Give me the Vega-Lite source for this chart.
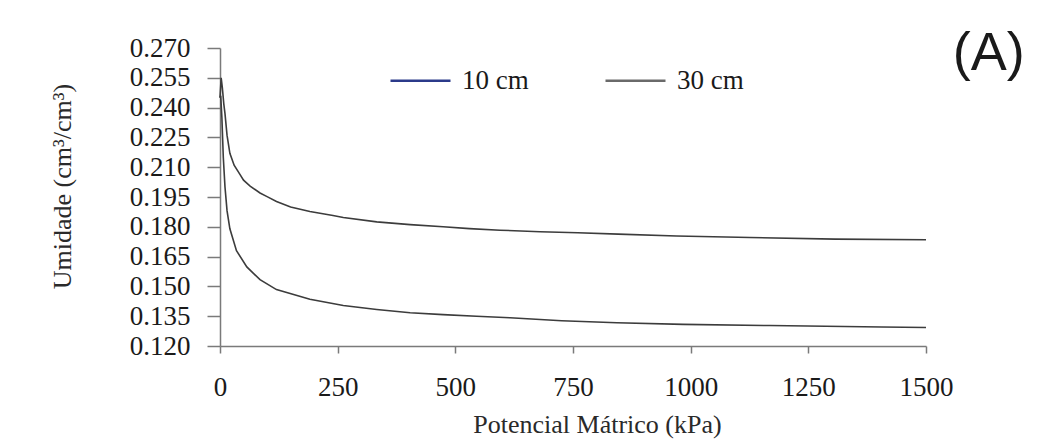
{
  "$schema": "https://vega.github.io/schema/vega-lite/v6.json",
  "width": 706,
  "height": 298,
  "autosize": {"type": "none"},
  "padding": {"left": 220, "top": 48, "right": 115, "bottom": 101},
  "background": "white",
  "datasets": {
    "curves": [
      {"kPa": 0, "theta": 0.245, "series": "10 cm"},
      {"kPa": 2.5, "theta": 0.255, "series": "10 cm"},
      {"kPa": 5, "theta": 0.25, "series": "10 cm"},
      {"kPa": 8, "theta": 0.242, "series": "10 cm"},
      {"kPa": 10.6, "theta": 0.237, "series": "10 cm"},
      {"kPa": 15, "theta": 0.226, "series": "10 cm"},
      {"kPa": 21, "theta": 0.217, "series": "10 cm"},
      {"kPa": 30, "theta": 0.211, "series": "10 cm"},
      {"kPa": 42, "theta": 0.2065, "series": "10 cm"},
      {"kPa": 50, "theta": 0.2035, "series": "10 cm"},
      {"kPa": 64, "theta": 0.2005, "series": "10 cm"},
      {"kPa": 85, "theta": 0.197, "series": "10 cm"},
      {"kPa": 100, "theta": 0.1952, "series": "10 cm"},
      {"kPa": 120, "theta": 0.1927, "series": "10 cm"},
      {"kPa": 150, "theta": 0.19, "series": "10 cm"},
      {"kPa": 191, "theta": 0.1877, "series": "10 cm"},
      {"kPa": 240, "theta": 0.1857, "series": "10 cm"},
      {"kPa": 262, "theta": 0.1847, "series": "10 cm"},
      {"kPa": 333, "theta": 0.1825, "series": "10 cm"},
      {"kPa": 404, "theta": 0.1811, "series": "10 cm"},
      {"kPa": 474, "theta": 0.18, "series": "10 cm"},
      {"kPa": 530, "theta": 0.1791, "series": "10 cm"},
      {"kPa": 595, "theta": 0.1783, "series": "10 cm"},
      {"kPa": 680, "theta": 0.1775, "series": "10 cm"},
      {"kPa": 760, "theta": 0.177, "series": "10 cm"},
      {"kPa": 846, "theta": 0.1763, "series": "10 cm"},
      {"kPa": 970, "theta": 0.1754, "series": "10 cm"},
      {"kPa": 1126, "theta": 0.1746, "series": "10 cm"},
      {"kPa": 1307, "theta": 0.1738, "series": "10 cm"},
      {"kPa": 1500, "theta": 0.1735, "series": "10 cm"},
      {"kPa": 0, "theta": 0.245, "series": "30 cm"},
      {"kPa": 1.5, "theta": 0.246, "series": "30 cm"},
      {"kPa": 4, "theta": 0.235, "series": "30 cm"},
      {"kPa": 7, "theta": 0.215, "series": "30 cm"},
      {"kPa": 10.6, "theta": 0.2, "series": "30 cm"},
      {"kPa": 15, "theta": 0.188, "series": "30 cm"},
      {"kPa": 21, "theta": 0.179, "series": "30 cm"},
      {"kPa": 35, "theta": 0.168, "series": "30 cm"},
      {"kPa": 57, "theta": 0.1598, "series": "30 cm"},
      {"kPa": 85, "theta": 0.1534, "series": "30 cm"},
      {"kPa": 120, "theta": 0.1484, "series": "30 cm"},
      {"kPa": 191, "theta": 0.1435, "series": "30 cm"},
      {"kPa": 262, "theta": 0.1404, "series": "30 cm"},
      {"kPa": 333, "theta": 0.1384, "series": "30 cm"},
      {"kPa": 404, "theta": 0.1367, "series": "30 cm"},
      {"kPa": 474, "theta": 0.1358, "series": "30 cm"},
      {"kPa": 545, "theta": 0.135, "series": "30 cm"},
      {"kPa": 616, "theta": 0.1342, "series": "30 cm"},
      {"kPa": 726, "theta": 0.1327, "series": "30 cm"},
      {"kPa": 843, "theta": 0.1317, "series": "30 cm"},
      {"kPa": 984, "theta": 0.1309, "series": "30 cm"},
      {"kPa": 1168, "theta": 0.1303, "series": "30 cm"},
      {"kPa": 1406, "theta": 0.1296, "series": "30 cm"},
      {"kPa": 1500, "theta": 0.1293, "series": "30 cm"}
    ],
    "panel": [
      {"kPa": 1710, "theta": 0.2589, "label": "(A)"}
    ]
  },
  "data": {"name": "curves"},
  "encoding": {
    "x": {
      "field": "kPa",
      "type": "quantitative",
      "scale": {"domain": [0, 1500], "nice": false, "zero": false},
      "axis": {
        "title": "Potencial Mátrico (kPa)",
        "values": [0, 250, 500, 750, 1000, 1250, 1500],
        "format": "d",
        "grid": false,
        "tickSize": 7,
        "labelPadding": 21,
        "labelFlush": false,
        "labelOverlap": false,
        "titleX": 377,
        "titleY": 86,
        "titleBaseline": "alphabetic",
        "titleAnchor": "middle"
      }
    },
    "y": {
      "field": "theta",
      "type": "quantitative",
      "scale": {"domain": [0.12, 0.27], "nice": false, "zero": false},
      "axis": {
        "title": "Umidade (cm³/cm³)",
        "values": [0.12, 0.135, 0.15, 0.165, 0.18, 0.195, 0.21, 0.225, 0.24, 0.255, 0.27],
        "format": ".3f",
        "grid": false,
        "tickSize": 13,
        "labelPadding": 17,
        "labelOverlap": false,
        "labelFlush": false,
        "titleX": -150,
        "titleY": 138,
        "titleBaseline": "alphabetic",
        "titleAngle": 270,
        "titleAnchor": "middle"
      }
    }
  },
  "layer": [
    {
      "mark": {"type": "line", "color": "#3c3c3c", "strokeWidth": 1.6, "interpolate": "linear"},
      "encoding": {"detail": {"field": "series", "type": "nominal"}}
    },
    {
      "mark": {"type": "line", "opacity": 0, "strokeWidth": 2.5},
      "encoding": {
        "color": {
          "field": "series",
          "type": "nominal",
          "scale": {"domain": ["10 cm", "30 cm"], "range": ["#2b3a8a", "#6a6a6a"]},
          "legend": {
            "title": null,
            "orient": "none",
            "direction": "horizontal",
            "legendX": 169,
            "legendY": 1,
            "padding": 0,
            "symbolType": "stroke",
            "symbolSize": 3600,
            "symbolStrokeWidth": 2.6,
            "symbolOpacity": 1,
            "labelOffset": 10,
            "columnPadding": 71,
            "labelFont": "Liberation Serif",
            "labelFontSize": 27,
            "labelColor": "#1a1a1a",
            "labelLimit": 300
          }
        }
      }
    },
    {
      "data": {"name": "panel"},
      "mark": {
        "type": "text",
        "align": "right",
        "baseline": "alphabetic",
        "font": "Liberation Sans",
        "fontSize": 54,
        "color": "#1a1a1a",
        "clip": false
      },
      "encoding": {
        "text": {"field": "label", "type": "nominal"}
      }
    }
  ],
  "config": {
    "view": {"stroke": null},
    "axis": {
      "domainColor": "#7a7a7a",
      "domainWidth": 1.5,
      "tickColor": "#7a7a7a",
      "tickWidth": 1.5,
      "labelFont": "Liberation Serif",
      "labelFontSize": 27,
      "labelColor": "#1a1a1a",
      "titleFont": "Liberation Serif",
      "titleFontSize": 26,
      "titleFontWeight": "normal",
      "titleColor": "#2a2a2a"
    }
  }
}
